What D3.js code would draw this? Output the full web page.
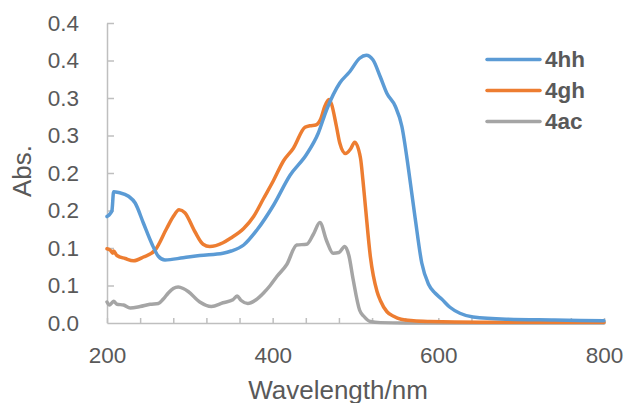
<!DOCTYPE html>
<html>
<script src='https://d3js.org/d3.v7.min.js'></script>
<style>
body {margin: 0; background: white;}
text {font-family: 'Liberation Sans', Arial, sans-serif; fill: #595959;}
</style>
<body onload='init()'>
<script>
// absorbance spectra
var nm4hh = [200,204,206,208,214,226,234,244,254,262,270,292,312,340,350,365,381,401,421,441,455,465,481,493,505,513,521,530,538,548,556,564,572,580,588,596,604,614,626,642,682,740,800];
var abs4hh = [0.142,0.146,0.150,0.175,0.174,0.169,0.160,0.133,0.106,0.089,0.084,0.087,0.090,0.093,0.096,0.104,0.124,0.157,0.197,0.225,0.253,0.284,0.320,0.335,0.353,0.357,0.351,0.328,0.306,0.289,0.262,0.205,0.140,0.080,0.052,0.040,0.032,0.021,0.013,0.008,0.005,0.004,0.003];

var nm4gh = [200,204,207,208,212,222,232,244,258,272,280,287,294,306,316,324,340,349,365,377,389,401,413,425,439,445,452,458,463,468,471,477,481,488,494,499,506,509,512,518,526,530,538,546,555,570,590,650,800];
var abs4gh = [0.099,0.097,0.093,0.096,0.090,0.086,0.083,0.088,0.097,0.126,0.142,0.151,0.147,0.122,0.105,0.102,0.107,0.113,0.126,0.142,0.166,0.190,0.216,0.233,0.261,0.263,0.264,0.272,0.289,0.298,0.292,0.262,0.240,0.226,0.232,0.241,0.220,0.190,0.155,0.088,0.042,0.030,0.015,0.009,0.005,0.003,0.002,0.001,0.001];

var nm4ac = [200,203,206,208,212,220,228,240,252,262,268,274,280,286,292,298,312,326,340,352,357,362,370,380,389,397,405,417,429,441,449,457,465,473,480,487,492,497,505,510,518,530,560,800];
var abs4ac = [0.028,0.024,0.027,0.029,0.025,0.024,0.020,0.022,0.025,0.026,0.032,0.040,0.046,0.048,0.046,0.042,0.028,0.022,0.027,0.031,0.036,0.030,0.026,0.031,0.040,0.050,0.062,0.078,0.104,0.105,0.118,0.134,0.110,0.093,0.094,0.102,0.090,0.059,0.017,0.009,0.002,0.0005,0,0];

var seriesNames = ['4hh', '4gh', '4ac'];
var seriesColors = ['#5b9bd5', '#ed7d31', '#a5a5a5'];

var xTicks = [200,240,280,320,360,400,440,480,520,560,600,640,680,720,760,800];
var xTickLabels = {200: '200', 400: '400', 600: '600', 800: '800'};
var yTicks = [0,0.05,0.1,0.15,0.2,0.25,0.3,0.35,0.4];
var yTickLabels = ['0.0','0.1','0.1','0.2','0.2','0.3','0.3','0.4','0.4'];

function init() {

var x = d3.scaleLinear().domain([200,800]).range([107,604]);
var y = d3.scaleLinear().domain([0,0.4]).range([323,23]);

var svg = d3.select('body')
.append('svg')
.attr('width', 624)
.attr('height', 403);

var series = [
  {name: seriesNames[0], color: seriesColors[0], pts: d3.zip(nm4hh, abs4hh)},
  {name: seriesNames[1], color: seriesColors[1], pts: d3.zip(nm4gh, abs4gh)},
  {name: seriesNames[2], color: seriesColors[2], pts: d3.zip(nm4ac, abs4ac)}
];

//axes
var yAxis = svg.append('g')
.attr('transform','translate(107,0)')
.call(d3.axisLeft(y).tickValues(yTicks).tickSizeInner(-7).tickSizeOuter(0).tickPadding(28)
  .tickFormat(function(d,i){return yTickLabels[i];}));

var xAxis = svg.append('g')
.attr('transform','translate(0,323)')
.call(d3.axisBottom(x).tickValues(xTicks).tickSizeInner(-5).tickSizeOuter(0).tickPadding(24)
  .tickFormat(function(d){return xTickLabels[d] || '';}));

[yAxis, xAxis].forEach(function(g){
  g.attr('font-family', null).attr('font-size', null);
  g.select('.domain').attr('stroke', '#bfbfbf').attr('stroke-width', 1.5);
  g.selectAll('.tick line').attr('stroke', '#bfbfbf').attr('stroke-width', 1.5);
  g.selectAll('.tick text').style('font-size', '22.5px').attr('fill', '#595959');
});
yAxis.selectAll('.tick').filter(function(d){return d === 0;}).select('line').remove();

//lines
var line = d3.line()
.x(function(d){return x(d[0]);})
.y(function(d){return y(d[1]);})
.curve(d3.curveMonotoneX);

svg.append('g')
.selectAll('path')
.data(series.slice().reverse())
.enter()
.append('path')
.attr('d', function(d){return line(d.pts);})
.attr('fill', 'none')
.attr('stroke', function(d){return d.color;})
.attr('stroke-width', 3.5)
.attr('stroke-linejoin', 'round')
.attr('stroke-linecap', 'round');

//legend
var legend = svg.append('g')
.selectAll('g')
.data(series)
.enter()
.append('g')
.attr('transform', function(d,i){return 'translate(0,' + (59.5 + i*31) + ')';});

legend.append('line')
.attr('x1', 487).attr('x2', 540)
.attr('stroke', function(d){return d.color;})
.attr('stroke-width', 3.5)
.attr('stroke-linecap', 'round');

legend.append('text')
.attr('x', 545)
.attr('y', 7.8)
.style('font-size', '22.5px')
.style('font-weight', 'bold')
.text(function(d){return d.name;});

//axis labels
svg.append('text')
.attr('transform', 'translate(31,171)rotate(-90)')
.style('text-anchor','middle')
.style('font-size', '26px')
.text('Abs.');

svg.append('text')
.attr('x', 338)
.attr('y', 398.5)
.style('text-anchor','middle')
.style('font-size', '26px')
.text('Wavelength/nm');

}
</script>
</body>
</html>
